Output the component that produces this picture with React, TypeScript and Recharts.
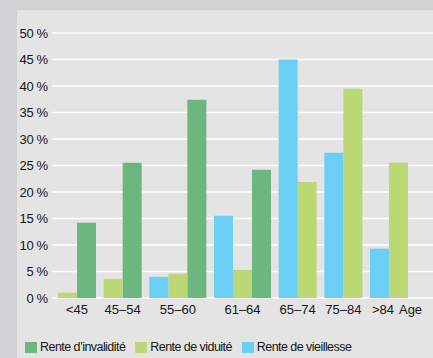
import React from 'react';
import { BarChart, Bar, XAxis, YAxis, CartesianGrid, Legend } from 'recharts';

// age groups and share of each pension type (%)
const ages = ['<45', '45–54', '55–60', '61–64', '65–74', '75–84', '>84'];
const vieillesse = [null, null, 4.0, 15.5, 45.0, 27.4, 9.3];
const viduite = [1.0, 3.6, 4.6, 5.3, 21.9, 39.5, 25.5];
const invalidite = [14.2, 25.5, 37.4, 24.2, null, null, null];
const yTicks = [0, 5, 10, 15, 20, 25, 30, 35, 40, 45, 50];
const legendOrder = ['Rente d’invalidité', 'Rente de viduité', 'Rente de vieillesse'];

const COLORS = {
  invalidite: '#6cb77f',
  viduite: '#bcd875',
  vieillesse: '#6bcff5',
};

const TEXT = '#151515';
const TICK_FONT = '"Liberation Sans", Arial, sans-serif';

// bars only exist where a value exists, so groups are packed tightly:
// one row per bar on a numeric axis, measured in bar widths
const GROUP_GAP = 0.4;
const series: [string, (number | null)[]][] = [
  ['vieillesse', vieillesse],
  ['viduite', viduite],
  ['invalidite', invalidite],
];
const rows: Record<string, number>[] = [];
const groupCenters: number[] = [];
let pos = 0.5;
ages.forEach((_, i) => {
  if (i > 0) pos += GROUP_GAP;
  const start = pos;
  series.forEach(([key, values]) => {
    const v = values[i];
    if (v == null) return;
    rows.push({ pos, [key]: v });
    pos += 1;
  });
  groupCenters.push((start + pos - 1) / 2);
});
const xMax = pos - 0.5;

function AgeTick(props: any) {
  const { x, y, index } = props;
  const label = ages[index];
  const last = index === ages.length - 1;
  return (
    <g>
      <text
        x={last ? x + 5 : x}
        y={y}
        dy="0.71em"
        textAnchor={last ? 'end' : 'middle'}
        fill={TEXT}
        fontSize={13}
        fontFamily={TICK_FONT}
      >
        {label}
      </text>
      {last && (
        <text x={x + 10} y={y} dy="0.71em" fill={TEXT} fontSize={13} fontFamily={TICK_FONT}>
          Age
        </text>
      )}
    </g>
  );
}

function LegendRow(props: any) {
  const payload = [...(props.payload || [])].sort(
    (a: any, b: any) => legendOrder.indexOf(a.value) - legendOrder.indexOf(b.value)
  );
  return (
    <div style={{ display: 'flex', alignItems: 'center', height: 16 }}>
      {payload.map((item: any) => (
        <div key={item.value} style={{ display: 'flex', alignItems: 'center', marginRight: 10 }}>
          <span style={{ width: 12, height: 11, background: item.color, marginRight: 3 }} />
          <span style={{ fontFamily: TICK_FONT, fontSize: 12.5, letterSpacing: -0.55, color: TEXT }}>
            {item.value}
          </span>
        </div>
      ))}
    </div>
  );
}

export default function App() {
  return (
    <div style={{ position: 'absolute', left: 0, top: 0, width: 433, height: 358, background: '#d1d2d4', overflow: 'hidden' }}>
      <div style={{ position: 'absolute', left: 17, top: 10, right: 0, bottom: 0, background: '#e4e4e4' }} />
      <div style={{ position: 'absolute', left: 0, top: 0 }}>
        <BarChart width={433} height={358} data={rows} margin={{ top: 33, right: 0, bottom: 3, left: 0 }}>
          <CartesianGrid vertical={false} stroke="#ffffff" strokeWidth={1.3} />
          <XAxis
            type="number"
            dataKey="pos"
            domain={[0, xMax]}
            padding={{ left: 6, right: 25 }}
            ticks={groupCenters}
            interval={0}
            tick={<AgeTick />}
            axisLine={false}
            tickLine={false}
            tickSize={0}
            tickMargin={7}
            height={41}
          />
          <YAxis
            domain={[0, 50]}
            ticks={yTicks}
            interval={0}
            tickFormatter={(v: number) => `${v}\u2009%`}
            tick={{ fill: TEXT, fontSize: 13, fontFamily: TICK_FONT }}
            axisLine={false}
            tickLine={false}
            tickSize={0}
            tickMargin={4}
            width={52}
          />
          <Legend
            verticalAlign="bottom"
            align="left"
            height={16}
            wrapperStyle={{ left: 25 }}
            content={<LegendRow />}
          />
          <Bar dataKey="invalidite" name="Rente d’invalidité" stackId="a" fill={COLORS.invalidite} barSize={19} isAnimationActive={false} />
          <Bar dataKey="viduite" name="Rente de viduité" stackId="a" fill={COLORS.viduite} barSize={19} isAnimationActive={false} />
          <Bar dataKey="vieillesse" name="Rente de vieillesse" stackId="a" fill={COLORS.vieillesse} barSize={19} isAnimationActive={false} />
        </BarChart>
      </div>
    </div>
  );
}
